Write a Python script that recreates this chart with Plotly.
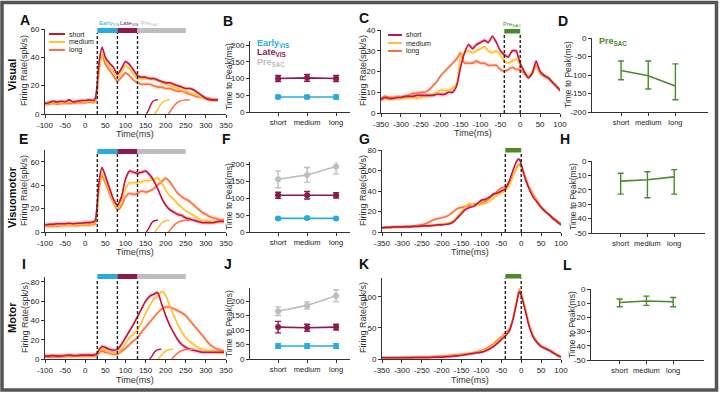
import plotly.graph_objects as go

W, H = 720, 394
C_SHORT = '#c8123f'
C_MED = '#ffc22e'
C_LONG = '#ff7040'
C_EARLY = '#29abe2'
C_LATE = '#8b1a4f'
C_PRE = '#bdbdbd'
C_GREEN = '#4a8a2a'
FONT = 'Liberation Sans, Arial, sans-serif'

# ---------------- data ----------------
tT = [-100, -90, -80, -70, -60, -50, -40, -30, -20, -10, 0, 10, 20, 25, 30, 35, 42,
      50, 60, 70, 80, 90, 100, 110, 120, 130, 140, 150, 160, 170, 180, 190, 200, 210,
      220, 230, 240, 250, 260, 270, 280, 290, 300, 310, 320, 330, 345]
tS = list(range(-350, 0, 10)) + [-5, 0] + list(range(10, 101, 10))

A_short = [7.5, 8, 9, 8.5, 9, 8.5, 10, 8.5, 9, 9.5, 9.5, 10, 9.5, 11, 22, 38, 47,
           40, 36, 33, 28, 32, 37, 35, 31, 27, 26, 26, 25, 25, 24, 23, 22, 22, 21, 20, 19, 18, 18, 17, 15, 13, 11, 10, 10, 10, None]
A_med = [7, 7.5, 8, 8, 8, 8, 8.5, 8, 8.5, 9, 8.5, 9, 8.5, 10, 18, 33, 42,
         38, 33, 30, 25, 30, 34, 32, 28, 25, 25, 25, 25, 25, 24, 22, 21, 20, 19, 18, 17, 16, 15, 14, 13, 12, 11, 10, 10, 9, None]
A_long = [7, 7, 7.5, 7, 7.5, 7.5, 7.5, 7.5, 8, 8, 8, 8.5, 8, 9, 16, 32, 42,
          35, 31, 27, 23, 26, 29, 27, 24, 22, 21, 21, 21, 20, 19, 19, 18, 18, 17, 16, 16, 15, 14, 13, 12, 12, 11, 11, 10, 10, None]

E_short = [6, 6.5, 6.5, 7, 7, 7, 7.5, 7, 7.5, 7.5, 8, 8, 8.5, 10, 25, 45, 55,
           48, 38, 28, 23, 30, 45, 52, 51, 50, 51, 52, 49, 44, 37, 29, 23, 19, 17, 15, 14, 12, 11, 10, 9, 8, 8, 8, 8, 9, 9]
E_med = [5, 5.5, 5.5, 5.5, 6, 6, 6, 6, 6.5, 6.5, 6.5, 7, 7, 8, 20, 40, 50,
         44, 35, 26, 20, 26, 37, 42, 42, 42, 43, 44, 44, 45, 46, 42, 36, 31, 28, 24, 21, 18, 16, 14, 12, 10, 10, 9, 9, 9, 9]
E_long = [5, 5, 5, 5, 5.5, 5.5, 5.5, 5.5, 5.5, 6, 6, 6, 6.5, 7, 18, 38, 48,
          42, 33, 25, 19, 22, 30, 33, 32, 33, 35, 34, 35, 37, 40, 43, 46, 43, 38, 33, 30, 28, 26, 23, 20, 17, 15, 13, 12, 11, 10]

I_short = [3, 3, 3.5, 3, 3, 3.5, 4, 3.5, 3.5, 4, 4, 4, 4, 4.5, 6, 10, 13,
           12, 10, 9, 10, 15, 22, 29, 36, 44, 52, 60, 65, 67, 69, 57, 45, 35, 27, 20, 15, 12, 10, 9, 8, 7, 7, 7, 7, 7, 7]
I_med = [3, 3, 3, 3, 3, 3, 3.5, 3, 3, 3.5, 3.5, 3.5, 3.5, 4, 5, 8, 10,
         9, 7, 6, 6, 10, 16, 22, 26, 30, 38, 47, 55, 62, 65, 70, 66, 55, 45, 36, 28, 22, 18, 15, 12, 10, 9, 9, 8, 7, 6]
I_long = [2.5, 2.5, 2.5, 2.5, 3, 3, 3, 3, 3, 3, 3, 3, 3, 3.5, 4, 7, 8,
          7, 6, 5, 5, 8, 11, 15, 19, 22, 28, 33, 38, 43, 48, 52, 54, 54, 52, 50, 48, 45, 40, 35, 30, 25, 20, 15, 12, 10, 8]

C_short_v = [6.5, 7.5, 7, 7, 7.5, 7.5, 8, 8, 8, 8.5, 8.5, 8.5, 8.5, 8.5, 9, 9, 9, 10, 10, 13,
             22, 29, 33, 31, 33, 34, 35, 34, 37, 34, 30, 28, 27, 30, 30, 27, 24,
             20, 17, 19, 25, 20, 18, 17, 15, 13, 11]
C_med_v = [6.5, 7, 6.5, 7, 7, 7, 7, 7.5, 7.5, 7, 7.5, 8, 8.5, 9, 10, 11, 11, 11, 12, 14,
           27, 29, 30, 29, 30, 31, 32, 30, 29, 30, 28, 25, 24, 25, 26, 25, 23,
           20, 17, 20, 24, 19, 18, 17, 15, 13, 11]
C_long_v = [7, 8, 7.5, 7.5, 7.5, 7.5, 8, 8.5, 9.5, 9.5, 10, 10, 11, 13, 15, 18, 20, 22, 24, 26,
            29, 24, 24, 24, 25, 24, 24, 23, 23, 23, 21, 20, 21, 22, 21, 21, 21,
            19, 17, 19, 23, 19, 18, 17, 15, 13, 11]

G_short = [4, 4.5, 4.5, 5, 5, 5, 5, 5, 5.5, 5.5, 6, 6, 6, 6.5, 7, 7, 7.5, 8, 10, 14,
           18, 22, 24, 25, 28, 31, 32, 34, 37, 38, 40, 42, 50, 61, 70, 71, 66,
           52, 42, 34, 29, 24, 20, 17, 13, 10, 7]
G_med = [4, 4.5, 4.5, 4.5, 5, 5, 5, 5, 5.5, 5.5, 5.5, 6, 6.5, 7, 7, 7.5, 8, 9, 11, 15,
         20, 25, 28, 26, 26, 27, 28, 30, 33, 36, 38, 40, 45, 55, 63, 65, 63,
         52, 43, 36, 30, 24, 20, 17, 13, 10, 8]
G_long = [4, 4.5, 5, 5, 5, 5, 5.5, 5.5, 6, 6.5, 7, 8, 10, 12, 13, 14, 15, 17, 20, 23,
          24, 25, 26, 27, 27, 28, 30, 33, 36, 40, 43, 44, 47, 56, 64, 66, 64,
          54, 44, 37, 31, 25, 21, 17, 14, 11, 8]

K_short = [2, 2, 2, 2, 2, 2, 2, 2, 2.5, 2.5, 2.5, 2.5, 2.5, 3, 3, 3, 3.5, 4, 4.5, 5,
           6, 7, 8, 9, 10, 11, 13, 16, 20, 25, 31, 37, 45, 65, 95, 108, 102,
           78, 52, 35, 26, 20, 17, 14, 10, 6, 3]
K_med = [2, 2, 2, 2, 2, 2, 2, 2.5, 2.5, 2.5, 2.5, 2.5, 3, 3, 3, 3.5, 4, 4.5, 5, 5.5,
         6.5, 7.5, 8.5, 9.5, 11, 12, 14, 18, 22, 28, 33, 40, 45, 68, 98, 110, 105,
         82, 55, 37, 27, 21, 18, 15, 11, 7, 4]
K_long = [2, 2, 2, 2, 2, 2, 2.5, 2.5, 2.5, 2.5, 3, 3, 3, 3.5, 4, 4.5, 5, 5.5, 6, 6.5,
          7, 8, 9, 10, 12, 13, 16, 20, 24, 30, 35, 42, 48, 66, 96, 112, 106,
          82, 56, 38, 28, 21, 18, 15, 11, 7, 4]

# saccade latency distributions (cumulative, scaled)
lat_t_short = [152, 158, 163, 168, 174, 181]
lat_t_med = [173, 180, 187, 195, 203, 210]
lat_t_long = [207, 214, 223, 233, 245, 260]
lat_v = [0, 3, 6.5, 8.8, 9.8, 10]

cats = ['short', 'medium', 'long']
B_early = [45, 45, 45]; B_early_e = [5, 5, 6]
B_late = [100, 102, 100]; B_late_e = [9, 10, 9]
F_early = [40, 41, 40]; F_early_e = [3, 3, 3]
F_late = [108, 108, 108]; F_late_e = [9, 11, 8]
F_pre = [155, 168, 193]; F_pre_e = [25, 22, 22]
J_early = [45, 45, 45]; J_early_e = [8, 8, 8]
J_late = [110, 108, 110]; J_late_e = [20, 12, 10]
J_pre = [165, 185, 218]; J_pre_e = [15, 12, 20]
D_pre = [-88, -102, -130]; D_hi = [26, 40, 60]; D_lo = [25, 36, 37]
H_pre = [-14, -13, -11]; H_hi = [5.5, 5.5, 5]; H_lo = [9, 12.5, 12]
L_pre = [-9.5, -8.5, -9]; L_hi = [2.5, 3.5, 3]; L_lo = [3, 3, 3.5]

sem = {'A': 1.3, 'E': 1.8, 'I': 2.2, 'C': 1.0, 'G': 1.4, 'K': 2.5}

# ---------------- layout helpers ----------------
def px(x):
    return x / W

def py(y):
    return 1 - y / H

fig = go.Figure()
layout = dict(width=W, height=H, autosize=False, margin=dict(l=0, r=0, t=0, b=0, pad=0),
              paper_bgcolor='white', plot_bgcolor='white', showlegend=False,
              font=dict(family=FONT, size=8, color='#222'))
shapes = []
annots = []

# panel: id -> (x px0, x px1, y px bottom, y px top, xrange, yrange)
panels = {
    'A': (45, 226, 114, 29, [-100, 350], [0, 60]),
    'B': (250, 350, 112, 41, [-0.97, 2.48], [0, 212]),
    'C': (381, 560, 113, 30, [-350, 100], [0, 40]),
    'D': (592, 708, 112, 38, [-1.07, 3.2], [-200, 0]),
    'E': (45, 226, 232, 150, [-100, 350], [0, 70]),
    'F': (250, 350, 232, 162, [-0.97, 2.48], [0, 206]),
    'G': (382, 561, 232, 150, [-350, 100], [0, 80]),
    'H': (592, 705, 233, 161, [-1.07, 3.15], [-50, 0]),
    'I': (45, 226, 359, 277, [-100, 350], [0, 85]),
    'J': (250, 350, 359, 288, [-0.97, 2.48], [0, 245]),
    'K': (382, 561, 359, 278, [-350, 100], [0, 130]),
    'L': (591, 704, 360, 289, [-1.07, 3.15], [-50, 0]),
}
ticks = {
    'A': (list(range(-100, 351, 50)), [0, 20, 40, 60]),
    'B': (None, [0, 50, 100, 150, 200]),
    'C': (list(range(-350, 101, 50)), [0, 10, 20, 30, 40]),
    'D': (None, [0, -50, -100, -150, -200]),
    'E': (list(range(-100, 351, 50)), [0, 20, 40, 60]),
    'F': (None, [0, 50, 100, 150, 200]),
    'G': (list(range(-350, 101, 50)), [0, 20, 40, 60, 80]),
    'H': (None, [0, -10, -20, -30, -40, -50]),
    'I': (list(range(-100, 351, 50)), [0, 20, 40, 60, 80]),
    'J': (None, [0, 50, 100, 150, 200]),
    'K': (list(range(-350, 101, 50)), [0, 50, 100]),
    'L': (None, [0, -10, -20, -30, -40, -50]),
}
axid = {}
for n, (k, (x0, x1, yb, yt, xr, yr)) in enumerate(panels.items(), start=1):
    xs = 'xaxis' if n == 1 else f'xaxis{n}'
    ys = 'yaxis' if n == 1 else f'yaxis{n}'
    xa = 'x' if n == 1 else f'x{n}'
    ya = 'y' if n == 1 else f'y{n}'
    axid[k] = (xa, ya)
    common = dict(showline=True, linecolor='#333', linewidth=1, ticks='outside',
                  ticklen=3, tickcolor='#333', showgrid=False, zeroline=False,
                  automargin=False,
                  tickfont=dict(size=8, color='#222', family=FONT))
    xt, yt_ = ticks[k]
    xdict = dict(common, domain=[px(x0), px(x1)], range=xr, anchor=ya)
    if xt is not None:
        xdict.update(tickmode='array', tickvals=xt, ticktext=[str(v) for v in xt])
    else:
        xdict.update(type='category', tickfont=dict(size=7.5, color='#222', family=FONT))
    ydict = dict(common, domain=[py(yb), py(yt)], range=yr, anchor=xa,
                 tickmode='array', tickvals=yt_, ticktext=[str(v) for v in yt_])
    layout[xs] = xdict
    layout[ys] = ydict

def hex2rgba(h, a):
    h = h.lstrip('#')
    return f'rgba({int(h[0:2],16)},{int(h[2:4],16)},{int(h[4:6],16)},{a})'

def psth(panel, t, series):
    xa, ya = axid[panel]
    s = sem[panel]
    for vals, col in series:
        pts = [(ti, v) for ti, v in zip(t, vals) if v is not None]
        xx = [p[0] for p in pts]
        yy = [p[1] for p in pts]
        up = [v + s for v in yy]
        lo = [max(v - s, 0) for v in yy]
        fig.add_trace(go.Scatter(x=xx + xx[::-1], y=up + lo[::-1], fill='toself',
                                 fillcolor=hex2rgba(col, 0.25), line=dict(width=0),
                                 mode='lines', hoverinfo='skip', xaxis=xa, yaxis=ya))
    for vals, col in series:
        fig.add_trace(go.Scatter(x=t, y=vals, mode='lines', line=dict(color=col, width=1.6, shape='spline', smoothing=0.6),
                                 connectgaps=False, xaxis=xa, yaxis=ya))

psth('A', tT, [(A_long, C_LONG), (A_med, C_MED), (A_short, C_SHORT)])
psth('E', tT, [(E_long, C_LONG), (E_med, C_MED), (E_short, C_SHORT)])
psth('I', tT, [(I_long, C_LONG), (I_med, C_MED), (I_short, C_SHORT)])
psth('C', tS, [(C_long_v, C_LONG), (C_med_v, C_MED), (C_short_v, C_SHORT)])
psth('G', tS, [(G_long, C_LONG), (G_med, C_MED), (G_short, C_SHORT)])
psth('K', tS, [(K_long, C_LONG), (K_med, C_MED), (K_short, C_SHORT)])

# latency curves
for p, shift in (('A', 0), ('E', 0), ('I', 8)):
    xa, ya = axid[p]
    for lt, col in ((lat_t_short, C_SHORT), (lat_t_med, C_MED), (lat_t_long, C_LONG)):
        fig.add_trace(go.Scatter(x=[v + shift for v in lt], y=lat_v, mode='lines',
                                 line=dict(color=col, width=1.5, shape='spline'),
                                 xaxis=xa, yaxis=ya))

# time-to-peak panels
def ttp(panel, series):
    xa, ya = axid[panel]
    for vals, err, col in series:
        fig.add_trace(go.Scatter(x=cats, y=vals, mode='lines+markers',
                                 line=dict(color=col, width=1.6),
                                 marker=dict(color=col, size=6),
                                 error_y=dict(type='data', array=err, color=col, thickness=1.4, width=3),
                                 xaxis=xa, yaxis=ya))

ttp('B', [(B_early, B_early_e, C_EARLY), (B_late, B_late_e, C_LATE)])
ttp('F', [(F_early, F_early_e, C_EARLY), (F_late, F_late_e, C_LATE), (F_pre, F_pre_e, C_PRE)])
ttp('J', [(J_early, J_early_e, C_EARLY), (J_late, J_late_e, C_LATE), (J_pre, J_pre_e, C_PRE)])

for p, vals, hi, lo in (('D', D_pre, D_hi, D_lo), ('H', H_pre, H_hi, H_lo), ('L', L_pre, L_hi, L_lo)):
    xa, ya = axid[p]
    fig.add_trace(go.Scatter(x=cats, y=vals, mode='lines', line=dict(color=C_GREEN, width=1.6),
                             error_y=dict(type='data', symmetric=False, array=hi, arrayminus=lo,
                                          color=C_GREEN, thickness=1.4, width=3),
                             xaxis=xa, yaxis=ya))

# event bars and dashed lines
def events(panel, windows, dashes, bar_top, bar_bot, y0px):
    xa, ya = axid[panel]
    for (a, b, col) in windows:
        shapes.append(dict(type='rect', xref=xa, yref='paper', x0=a, x1=b,
                           y0=py(bar_bot), y1=py(bar_top), fillcolor=col, line=dict(width=0), layer='above'))
    for d in dashes:
        shapes.append(dict(type='line', xref=xa, yref='paper', x0=d, x1=d,
                           y0=py(y0px), y1=py(bar_bot), line=dict(color='#222', width=1.4, dash='3px,2px'), layer='above'))

win_tgt = [(30, 80, C_EARLY), (80, 130, C_LATE), (130, 250, C_PRE)]
win_sac = [(-40, 0, C_GREEN)]
events('A', win_tgt, [30, 80, 130], 28, 33, 114)
events('E', win_tgt, [30, 80, 130], 149, 154, 232)
events('I', win_tgt, [30, 80, 130], 274, 279, 359)
events('C', win_sac, [-40, 0], 29, 33.5, 113)
events('G', win_sac, [-40, 0], 148, 152.5, 232)
events('K', win_sac, [-40, 0], 274, 278.5, 359)

def ann(x, y, text, size=8, color='#222', bold=False, angle=0, xanchor='center', xref='paper'):
    if bold:
        text = f'<b>{text}</b>'
    annots.append(dict(x=x if xref != 'paper' else px(x), y=py(y), xref=xref, yref='paper',
                       text=text, showarrow=False, textangle=angle,
                       font=dict(size=size, color=color, family=FONT),
                       xanchor=xanchor, yanchor='middle'))

# bar labels
ann(30, 24, 'Early<sub>VIS</sub>', 6, C_EARLY, False, 0, 'left', axid['A'][0])
ann(82, 24, 'Late<sub>VIS</sub>', 6, C_LATE, False, 0, 'left', axid['A'][0])
ann(134, 24, 'Pre<sub>SAC</sub>', 6, C_PRE, False, 0, 'left', axid['A'][0])
ann(-20, 24.5, 'Pre<sub>SAC</sub>', 6, C_GREEN, False, 0, 'center', axid['C'][0])

# legends (A and C)
for (lx0, lx1, ys) in ((49, 65, (34, 42, 50)), (388, 402, (35, 43, 51))):
    for yy, col, lab in zip(ys, (C_SHORT, C_MED, C_LONG), ('short', 'medium', 'long')):
        shapes.append(dict(type='line', xref='paper', yref='paper', x0=px(lx0), x1=px(lx1),
                           y0=py(yy), y1=py(yy), line=dict(color=col, width=2)))
        ann(lx1 + 2, yy, lab, 7, '#222', False, 0, 'left')

# B legend and D legend
ann(255, 43, 'Early<sub>VIS</sub>', 9, C_EARLY, True, 0, 'left')
ann(255, 52.5, 'Late<sub>VIS</sub>', 9, C_LATE, True, 0, 'left')
ann(255, 62, 'Pre<sub>SAC</sub>', 9, C_PRE, True, 0, 'left')
ann(597, 42, 'Pre<sub>SAC</sub>', 9, C_GREEN, True, 0, 'left')

# panel letters
for lab, (x, y) in {'A': (25, 20), 'B': (228, 21), 'C': (364, 18), 'D': (563, 21),
                    'E': (23, 139), 'F': (226, 139), 'G': (364, 139), 'H': (565, 139),
                    'I': (24, 264), 'J': (228, 264), 'K': (364, 264), 'L': (567, 265)}.items():
    ann(x, y, lab, 14, '#111', True)

# row labels
ann(12, 75, 'Visual', 11, '#111', True, -90)
ann(12, 197, 'Visuomotor', 11, '#111', True, -90)
ann(12, 318, 'Motor', 11, '#111', True, -90)

# axis titles
for (x, y) in ((24, 71), (363, 71), (24, 191), (363, 191), (25, 318), (363, 318)):
    ann(x, y, 'Firing Rate(spk/s)', 9, '#333', False, -90)
for (x, y) in ((229, 77), (229, 197), (229, 324), (568, 75), (573, 197), (572, 325)):
    ann(x, y, 'Time to Peak(ms)', 8.5, '#333', False, -90)
for (x, y) in ((135, 133.5), (473, 133), (135, 252.5), (470, 252.5), (135, 379.5), (470, 379.5)):
    ann(x, y, 'Time(ms)', 9, '#333')

# frame
shapes.append(dict(type='rect', xref='paper', yref='paper', x0=px(2), x1=px(716.5),
                   y0=py(390), y1=py(2.5), line=dict(color='#555', width=3.5)))

layout['shapes'] = shapes
layout['annotations'] = annots
fig.update_layout(**layout)
fig.write_html('out.html', config={'responsive': False, 'displayModeBar': False},
               post_script="document.body.style.margin='0';document.body.style.overflow='hidden';")
